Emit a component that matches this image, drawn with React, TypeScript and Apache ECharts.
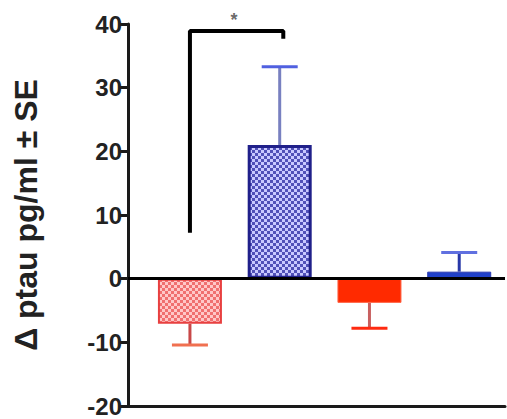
import React, { useEffect, useRef } from "react";
import * as echarts from "echarts";

// Four treatment groups, change in ptau (pg/ml) with standard error
const groups = ["Group 1", "Group 2", "Group 3", "Group 4"];
const means = [-7.1, 21.0, -3.8, 1.1];
const errors = [3.3, 12.3, 4.0, 3.0];

// Y axis scale
const yMin = -20;
const yMax = 40;
const yStep = 10;

// Significance bracket between group 1 and group 2
const bracketPath = [
  [0, 7.2],
  [0, 38.9],
  [1.04, 38.9],
  [1.04, 37.7],
];
const starPos = [0.49, 40.7];

const stemColors = ["#c84848", "#7880c0", "#c86060", "#2838a8"];
const capColors = ["#f07050", "#5060e0", "#ff2a10", "#6070e0"];

function checker(a: string, b: string, size: number) {
  const c = document.createElement("canvas");
  c.width = size * 2;
  c.height = size * 2;
  const ctx = c.getContext("2d")!;
  ctx.fillStyle = a;
  ctx.fillRect(0, 0, size * 2, size * 2);
  ctx.fillStyle = b;
  ctx.fillRect(0, 0, size, size);
  ctx.fillRect(size, size, size, size);
  return c;
}

export default function App() {
  const ref = useRef<HTMLDivElement>(null);

  useEffect(() => {
    if (!ref.current) return;
    const chart = echarts.init(ref.current, null, { renderer: "svg" });

    const pinkCheck = checker("#ffc8c8", "#f07070", 3);
    const blueCheck = checker("#c8c8ff", "#5050b8", 3);

    const barStyles = [
      { color: { image: pinkCheck, repeat: "repeat" }, borderColor: "#e84040", borderWidth: 2 },
      { color: { image: blueCheck, repeat: "repeat" }, borderColor: "#20208a", borderWidth: 3 },
      { color: "#ff2a00", borderColor: "#ff6040", borderWidth: 1 },
      { color: "#2040c8", borderColor: "#2838b0", borderWidth: 1 },
    ];

    const font = "'Liberation Sans', Arial, sans-serif";

    chart.setOption({
      animation: false,
      backgroundColor: "#ffffff",
      grid: { left: 128, right: 2, top: 24, bottom: 13 },
      xAxis: {
        type: "value",
        min: -0.69,
        max: 3.51,
        axisLine: { show: true, onZero: false, lineStyle: { color: "#1a1a1a", width: 3 } },
        axisTick: { show: false },
        axisLabel: { show: false },
        splitLine: { show: false },
      },
      yAxis: {
        type: "value",
        min: yMin,
        max: yMax,
        interval: yStep,
        name: "Δ ptau pg/ml ± SE",
        nameLocation: "middle",
        nameGap: 86,
        nameTextStyle: {
          fontFamily: font,
          fontWeight: "bold",
          fontSize: 32,
          color: "#222",
        },
        axisLine: { show: true, onZero: false, lineStyle: { color: "#1a1a1a", width: 3 } },
        axisTick: { show: true, length: 9, lineStyle: { color: "#1a1a1a", width: 3 } },
        axisLabel: {
          fontFamily: font,
          fontWeight: "bold",
          fontSize: 24,
          color: "#222",
          margin: 6,
        },
        splitLine: { show: false },
      },
      series: [
        {
          type: "bar",
          barWidth: 64,
          z: 2,
          data: means.map((v, i) => ({ value: [i, v], itemStyle: barStyles[i] })),
        },
        {
          type: "custom",
          z: 3,
          encode: { x: 0, y: 1 },
          data: means.map((v, i) => [i, v, errors[i]]),
          renderItem: (params: any, api: any) => {
            const x = api.value(0);
            const m = api.value(1);
            const e = api.value(2);
            const end = m >= 0 ? m + e : m - e;
            const p0 = api.coord([x, m]);
            const p1 = api.coord([x, end]);
            const half = 18;
            const idx = params.dataIndex;
            return {
              type: "group",
              children: [
                {
                  type: "line",
                  shape: { x1: p0[0], y1: p0[1], x2: p1[0], y2: p1[1] },
                  style: { stroke: stemColors[idx], lineWidth: 3 },
                },
                {
                  type: "line",
                  shape: { x1: p1[0] - half, y1: p1[1], x2: p1[0] + half, y2: p1[1] },
                  style: { stroke: capColors[idx], lineWidth: 3 },
                },
              ],
            };
          },
        },
        {
          type: "line",
          z: 5,
          symbol: "none",
          data: [],
          markLine: {
            silent: true,
            symbol: "none",
            label: { show: false },
            lineStyle: { color: "#000", width: 3, type: "solid" },
            data: [{ yAxis: 0 }],
          },
        },
        {
          type: "line",
          z: 6,
          symbol: "none",
          clip: false,
          lineStyle: { color: "#000", width: 4 },
          data: bracketPath,
        },
        {
          type: "scatter",
          clip: false,
          symbolSize: 1,
          itemStyle: { color: "transparent" },
          label: {
            show: true,
            position: "inside",
            formatter: "*",
            fontFamily: font,
            fontSize: 18,
            fontWeight: "bold",
            color: "#444",
          },
          data: [starPos],
        },
      ],
    });

    return () => chart.dispose();
  }, []);

  return (
    <div
      ref={ref}
      style={{ position: "absolute", left: 0, top: 0, width: 507, height: 419 }}
    />
  );
}
